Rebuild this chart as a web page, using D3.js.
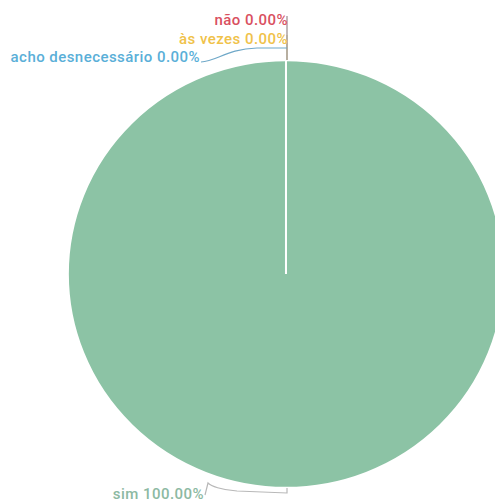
<!DOCTYPE html>
<html>
<head>
<meta charset="utf-8">
<script src="https://cdn.jsdelivr.net/npm/d3@7"></script>
<style>
  html, body { margin: 0; padding: 0; background: #fff; }
  svg { display: block; }
  text { font-family: Roboto, "Noto Sans", sans-serif; font-weight: 500; letter-spacing: 0.45px; }
</style>
</head>
<body>
<svg id="chart" width="495" height="503"></svg>
<script>
// Survey answers and their shares (%)
const categories = ["sim", "não", "às vezes", "acho desnecessário"];
const values = [100, 0, 0, 0];
const colors = ["#8cc3a5", "#d9505f", "#f0c24a", "#5aafd8"];
const labelColors = ["#8cb9a2", "#d9505f", "#f0c24a", "#5aafd8"];
const lineColors = ["#b8b8b8", "#9a8a8c", "#b0a890", "#6fa8c8"];

const svg = d3.select("#chart");
const cx = 286, cy = 274, R = 216;

const data = categories.map((c, i) => ({ name: c, value: values[i], i }));

const pie = d3.pie().sort(null).value(d => d.value);
const arcs = pie(data);
const arc = d3.arc().innerRadius(0).outerRadius(R);

const g = svg.append("g").attr("transform", `translate(${cx},${cy}) scale(1.01,0.99)`);

g.selectAll("path.slice")
  .data(arcs)
  .join("path")
  .attr("class", "slice")
  .attr("d", arc)
  .attr("fill", d => colors[d.data.i])
  .attr("stroke", "#fff")
  .attr("stroke-width", 2);

const fmt = v => d3.format(".2f")(v) + "%";
const fontSize = 15;

// Point on the rim at a slice's middle angle
function rim(d, r) {
  const a = (d.startAngle + d.endAngle) / 2;
  return [Math.sin(a) * r, -Math.cos(a) * r];
}

// Leader lines and labels: zero slices stack upward above the top of the pie,
// the full slice is labelled below, to the left.
const zeroArcs = arcs.filter(d => d.data.value === 0);
const fullArcs = arcs.filter(d => d.data.value > 0);

const lines = svg.append("g").attr("fill", "none").attr("stroke-width", 1.2);
const labels = svg.append("g");

function addLabel(d, x, y) {
  labels.append("text")
    .attr("x", x).attr("y", y)
    .attr("text-anchor", "end")
    .attr("font-size", fontSize)
    .attr("fill", labelColors[d.data.i])
    .text(`${d.data.name} ${fmt(d.data.value)}`);
}

zeroArcs.forEach((d, k) => {
  const [px, py] = rim(d, R);
  const x0 = cx + px + 1, y0 = cy + py + 2;
  const ty = y0 - 35 + k * 19;   // label baseline
  if (k < 2) {
    lines.append("path")
      .attr("d", `M${x0},${y0} L${x0},${ty - 9}`)
      .attr("stroke", lineColors[d.data.i]);
    addLabel(d, x0 + 1, ty);
  } else {
    const lx = x0 - 86, ly = y0 + 2;
    lines.append("path")
      .attr("d", `M${x0},${y0 - 12} L${x0 - 30},${y0 - 12} C${x0 - 60},${y0 - 11} ${x0 - 70},${y0 + 1} ${lx},${ly}`)
      .attr("stroke", lineColors[d.data.i]);
    addLabel(d, lx - 1, ly);
  }
});

fullArcs.forEach(d => {
  const [px, py] = rim(d, R);
  const x0 = cx + px + 1, y0 = cy + py - 2;
  const lx = x0 - 82, ly = y0 + 11;
  lines.append("path")
    .attr("d", `M${x0},${y0} L${x0},${y0 + 5} L${x0 - 50},${y0 + 3} C${x0 - 66},${y0 + 2} ${x0 - 76},${y0 - 2} ${x0 - 79},${y0 - 5} L${lx},${ly - 4}`)
    .attr("stroke", lineColors[d.data.i]);
  addLabel(d, lx - 1, ly);
});
</script>
</body>
</html>
